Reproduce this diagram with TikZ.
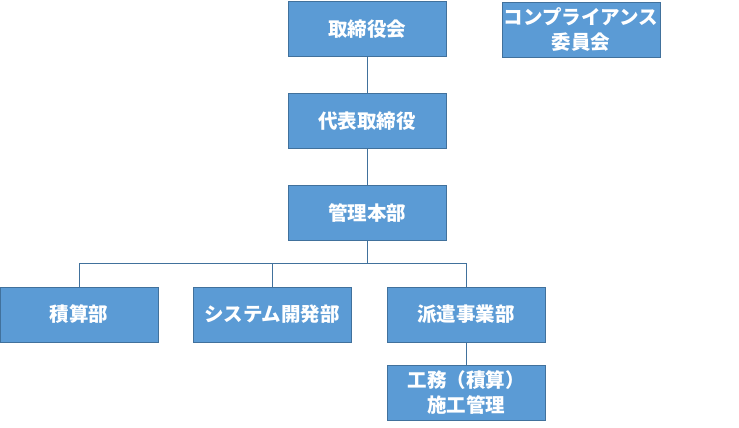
\documentclass[tikz,border=0pt]{standalone}
\usepackage{fontspec}
\setmainfont{Noto Sans CJK JP}
\usepackage{tikz}
\definecolor{boxblue}{HTML}{5B9BD5}
\definecolor{edgeblue}{HTML}{41719C}
\tikzset{
  orgbox/.style={draw=edgeblue, fill=boxblue, line width=0.8pt,
    minimum width=158pt, minimum height=55pt, inner sep=0pt,
    text=white, align=center, font=\fontsize{19.5}{25}\selectfont\bfseries},
  orgline/.style={draw=edgeblue, line width=0.8pt}
}

\begin{document}
\begin{tikzpicture}[x=1pt,y=-1pt]
  \useasboundingbox (0,0) rectangle (739,428);
  \node[orgbox] (board) at (367,29) {取締役会};
  \node[orgbox] (comp) at (581,29.5) {コンプライアンス\\委員会};
  \node[orgbox] (ceo) at (367,121) {代表取締役};
  \node[orgbox] (admin) at (367,213) {管理本部};
  \foreach \n/\x/\t in {est/79/積算部, sys/272/システム開発部, disp/466/派遣事業部}
    \node[orgbox] (\n) at (\x,314.5) {\t};
  \node[orgbox] (works) at (466,393) {工務（積算）\\施工管理};
  \coordinate (bus) at (0,263);
  \draw[orgline] (board) -- (ceo);
  \draw[orgline] (ceo) -- (admin);
  \draw[orgline] (admin.south) -- (admin.south |- bus);
  \draw[orgline] (est.north) -- (est.north |- bus) -- (disp.north |- bus) -- (disp.north);
  \draw[orgline] (sys.north) -- (sys.north |- bus);
  \draw[orgline] (disp) -- (works);
\end{tikzpicture}
\end{document}
